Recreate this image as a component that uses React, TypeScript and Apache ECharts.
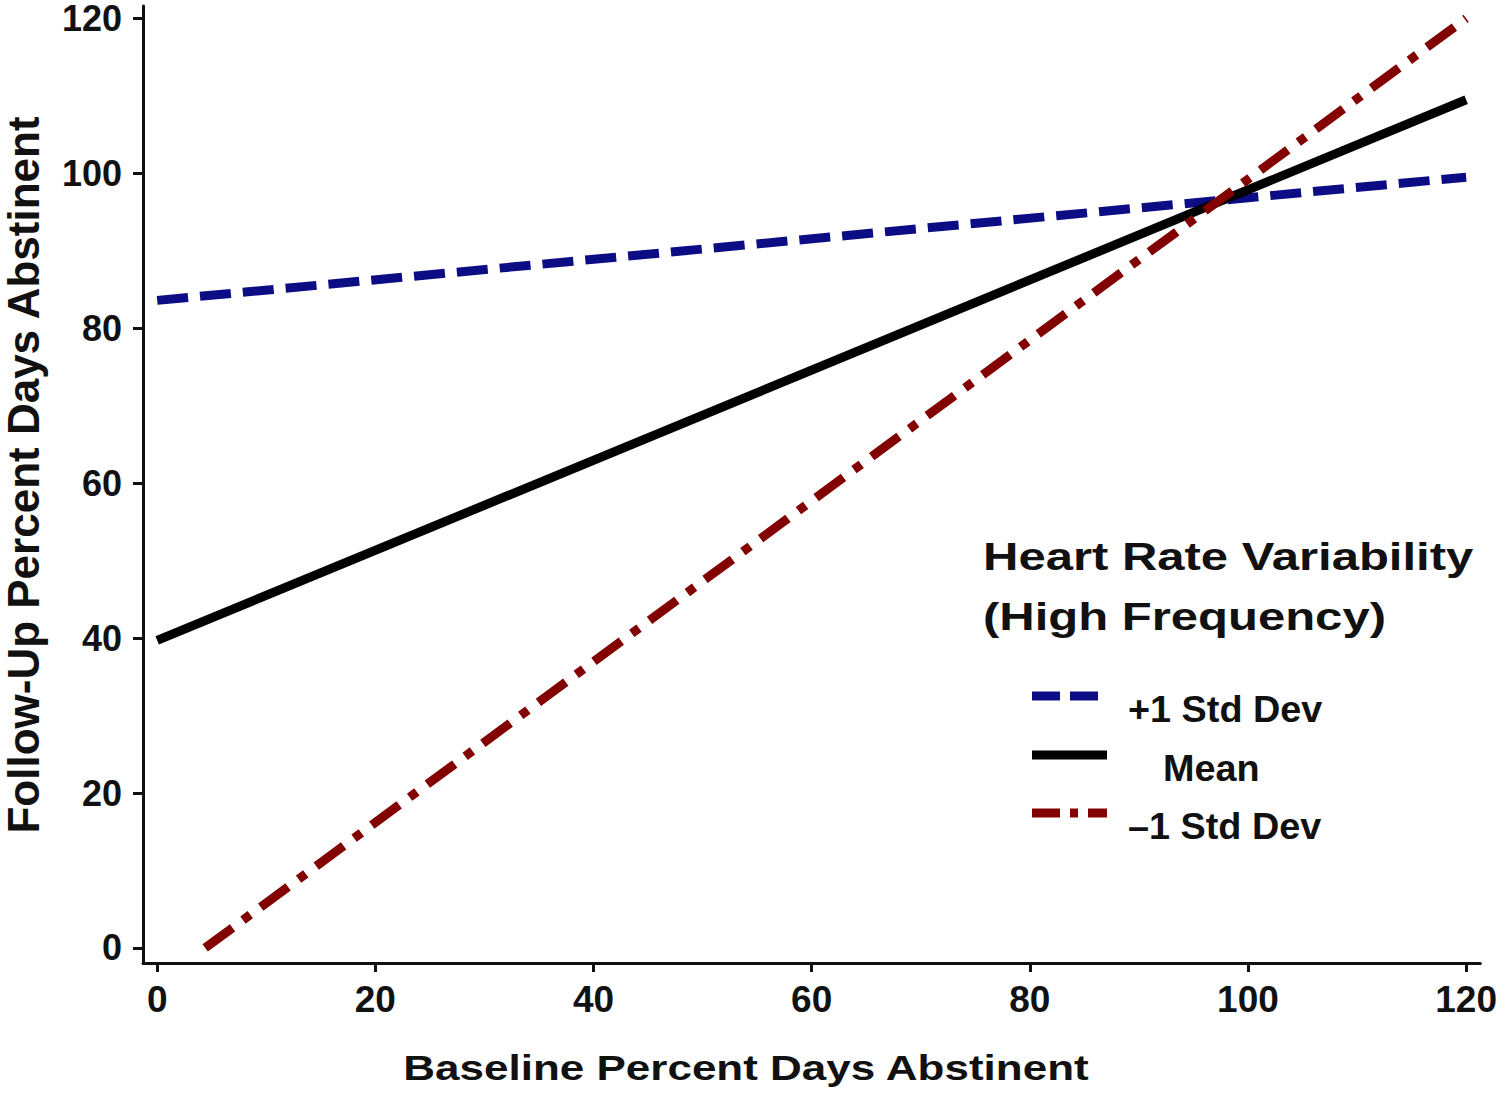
import React, { useEffect, useRef } from "react";
import * as echarts from "echarts";

const xTicks = [0, 20, 40, 60, 80, 100, 120];
const yTicks = [0, 20, 40, 60, 80, 100, 120];

const seriesNames = ["+1 Std Dev", "Mean", "\u20131 Std Dev"];
const plusX = [0, 120];
const plusY = [83.6, 99.5];
const meanX = [0, 120];
const meanY = [39.7, 109.5];
const minusX = [4.4, 120];
const minusY = [0, 120];

const xTitle = "Baseline Percent Days Abstinent";
const yTitle = "Follow-Up Percent Days Abstinent";
const legendTitle = ["Heart Rate Variability", "(High Frequency)"];

const BLUE = "#0c0c84";
const RED = "#820000";
const BLACK = "#000000";
const FONT = "'Liberation Sans', Arial, Helvetica, sans-serif";

const pairs = (xs: number[], ys: number[]) => xs.map((x, i) => [x, ys[i]]);

export default function App() {
  const ref = useRef<HTMLDivElement>(null);
  useEffect(() => {
    if (!ref.current) return;
    const chart = echarts.init(ref.current, undefined, { renderer: "svg" });
    const axisCommon = {
      type: "value",
      splitLine: { show: false },
      axisLine: { show: true, onZero: false, lineStyle: { color: "#111", width: 3 } },
    };
    const lineDefs = [
      { name: seriesNames[0], data: pairs(plusX, plusY), color: BLUE, type: [31, 12] },
      { name: seriesNames[1], data: pairs(meanX, meanY), color: BLACK, type: "solid" },
      { name: seriesNames[2], data: pairs(minusX, minusY), color: RED, type: [34, 13, 9, 13] },
    ];
    const legendY = [696, 755, 813];
    const legendTextX = [1128, 1163, 1128];
    const legendGraphics: any[] = [];
    legendGraphics.push(
      { type: "line", shape: { x1: 1032, y1: legendY[0], x2: 1060, y2: legendY[0] }, style: { stroke: BLUE, lineWidth: 9 } },
      { type: "line", shape: { x1: 1070, y1: legendY[0], x2: 1098, y2: legendY[0] }, style: { stroke: BLUE, lineWidth: 9 } },
      { type: "line", shape: { x1: 1032, y1: legendY[1], x2: 1107, y2: legendY[1] }, style: { stroke: BLACK, lineWidth: 9 } },
      { type: "line", shape: { x1: 1032, y1: legendY[2], x2: 1060, y2: legendY[2] }, style: { stroke: RED, lineWidth: 9 } },
      { type: "line", shape: { x1: 1070, y1: legendY[2], x2: 1078, y2: legendY[2] }, style: { stroke: RED, lineWidth: 9 } },
      { type: "line", shape: { x1: 1088, y1: legendY[2], x2: 1107, y2: legendY[2] }, style: { stroke: RED, lineWidth: 9 } }
    );
    seriesNames.forEach((n, i) => {
      legendGraphics.push({
        type: "text",
        x: legendTextX[i],
        y: legendY[i] + 14,
        scaleX: 1.05,
        style: { text: n, font: `bold 36px ${FONT}`, fill: "#111", textAlign: "left", textVerticalAlign: "middle" },
      });
    });
    chart.setOption({
      animation: false,
      backgroundColor: "#ffffff",
      grid: { left: 143, right: 18, top: 6, bottom: 132, containLabel: false },
      xAxis: {
        ...axisCommon,
        min: -1.3,
        max: 121.3,
        axisTick: { show: true, customValues: xTicks, length: 9, lineStyle: { color: "#111", width: 3 } },
        axisLabel: { customValues: xTicks, fontSize: 37, fontWeight: "bold", fontFamily: FONT, color: "#111", margin: 18 },
      },
      yAxis: {
        ...axisCommon,
        min: -1.94,
        max: 121.6,
        axisTick: { show: true, customValues: yTicks, length: 10, lineStyle: { color: "#111", width: 3 } },
        axisLabel: { customValues: yTicks, fontSize: 36, lineHeight: 30, fontWeight: "bold", fontFamily: FONT, color: "#111", margin: 21 },
      },
      series: lineDefs.map((d) => ({
        type: "line",
        name: d.name,
        data: d.data,
        showSymbol: false,
        symbol: "none",
        lineStyle: { color: d.color, width: 9, type: d.type, cap: "butt" },
        z: 3,
      })),
      graphic: [
        {
          type: "text",
          x: 23,
          y: 475,
          rotation: Math.PI / 2,
          style: { text: yTitle, font: `bold 44px ${FONT}`, lineHeight: 40, fill: "#111", textAlign: "center", textVerticalAlign: "middle" },
        },
        {
          type: "text",
          x: 746,
          y: 1068,
          scaleX: 1.257,
          style: { text: xTitle, font: `bold 35px ${FONT}`, fill: "#111", textAlign: "center", textVerticalAlign: "middle" },
        },
        {
          type: "text",
          x: 983,
          y: 557,
          scaleX: 1.29,
          style: { text: legendTitle[0], font: `bold 38px ${FONT}`, fill: "#111", textAlign: "left", textVerticalAlign: "middle" },
        },
        {
          type: "text",
          x: 983,
          y: 617,
          scaleX: 1.29,
          style: { text: legendTitle[1], font: `bold 38px ${FONT}`, fill: "#111", textAlign: "left", textVerticalAlign: "middle" },
        },
        ...legendGraphics,
      ],
    });
    return () => chart.dispose();
  }, []);
  return <div ref={ref} style={{ position: "absolute", left: 0, top: 0, width: 1500, height: 1095 }} />;
}
